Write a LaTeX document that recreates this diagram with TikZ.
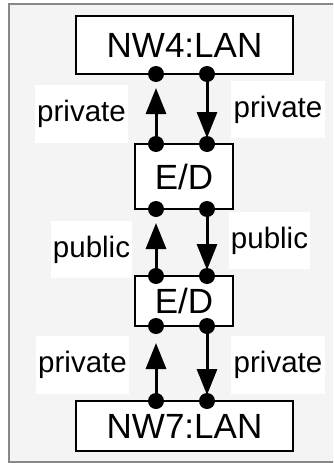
\documentclass[tikz,border=0pt]{standalone}
\usepackage{fontspec}
\setmainfont{Liberation Sans}
\usetikzlibrary{arrows.meta}
\definecolor{bgc}{HTML}{F4F4F4}
\definecolor{framec}{HTML}{888888}
\tikzset{
  box/.style={draw=black, line width=2pt, fill=white, inner sep=0pt, font=\fontsize{35}{40}\selectfont},
  lbl/.style={fill=white, inner sep=0pt, font=\fontsize{29.5}{33}\selectfont},
  dot/.style={circle, fill=black, inner sep=0pt, minimum size=16pt},
  arr/.style={line width=3pt, -{Triangle[width=20pt,length=26pt]}},
  upar/.style={arr, shorten >=14pt},
  dnar/.style={arr, shorten >=6pt},
}
\begin{document}
\begin{tikzpicture}[x=1pt,y=-1pt]
\useasboundingbox (0,0) rectangle (333,463);
\clip (0,0) rectangle (333,463);
\draw[framec, line width=2pt, fill=bgc] (9,4) rectangle (345,462);
% boxes
\node[box, minimum width=217pt, minimum height=58pt] (nw4) at (184.5,45) {NW4:LAN};
\node[box, minimum width=98pt, minimum height=65pt] (ed1) at (184,176.5) {E/D};
\node[box, minimum width=98pt, minimum height=50pt] (ed2) at (184,301) {E/D};
\node[box, minimum width=217pt, minimum height=50pt] (nw7) at (184.5,426) {NW7:LAN};
% labels
\node[lbl, minimum width=93pt, minimum height=58pt] (l1) at (81.5,114) {private};
\node[lbl, minimum width=94pt, minimum height=57pt] (r1) at (278,109.5) {private};
\node[lbl, minimum width=81pt, minimum height=57pt] (l2) at (91.5,249.5) {public};
\node[lbl, minimum width=81pt, minimum height=57pt] (r2) at (269.5,240.5) {public};
\node[lbl, minimum width=93pt, minimum height=58pt] (l3) at (82.5,365) {private};
\node[lbl, minimum width=94pt, minimum height=58pt] (r3) at (278,365) {private};
% dots
\node[dot] (a1) at (156,74) {};
\node[dot] (a2) at (207,74) {};
\node[dot] (b1) at (156,144) {};
\node[dot] (b2) at (207,144) {};
\node[dot] (c1) at (156,209) {};
\node[dot] (c2) at (207,209) {};
\node[dot] (d1) at (156,276) {};
\node[dot] (d2) at (207,276) {};
\node[dot] (e1) at (156,326) {};
\node[dot] (e2) at (207,326) {};
\node[dot] (f1) at (156,401) {};
\node[dot] (f2) at (207,401) {};
% arrows
\draw[upar] (b1.center) -- (a1.center);
\draw[dnar] (a2.center) -- (b2.center);
\draw[upar] (d1.center) -- (c1.center);
\draw[dnar] (c2.center) -- (d2.center);
\draw[upar, shorten >=17pt] (f1.center) -- (e1.center);
\draw[dnar] (e2.center) -- (f2.center);
\end{tikzpicture}
\end{document}
